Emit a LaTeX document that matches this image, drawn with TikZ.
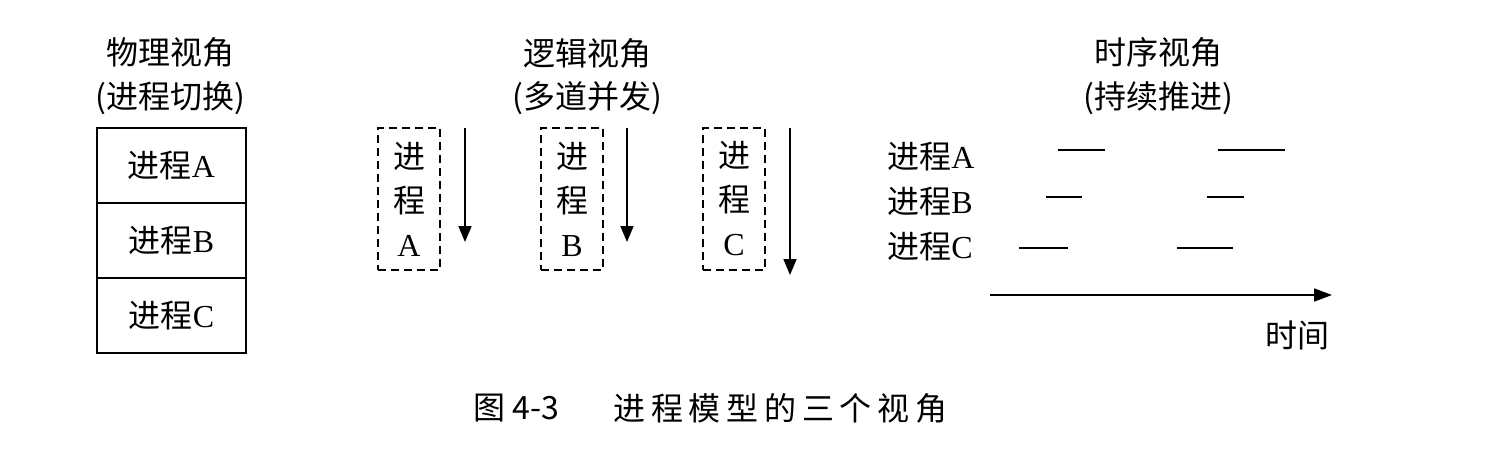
\documentclass[tikz,border=0pt]{standalone}
\usepackage{fontspec}
\setmainfont{Liberation Serif}
\newfontfamily\cjk{Noto Sans CJK SC}
\newfontfamily\cjkcap[LetterSpace=18]{Noto Sans CJK SC}
\newcommand{\zh}[1]{{\cjk #1}}
\usetikzlibrary{arrows.meta,positioning}

\begin{document}
\begin{tikzpicture}[x=0.5pt, y=-0.5pt,
    every node/.style={font=\fontsize{16}{22}\selectfont, inner sep=0pt},
    procrow/.style={draw, line width=0.9pt, outer sep=0pt, minimum width=74.5pt, minimum height=37.5pt},
    procbox/.style={draw, dash pattern=on 4pt off 2.5pt, line width=0.9pt,
        minimum width=31pt, minimum height=71pt, align=center},
    flow/.style={-{Triangle[length=8pt,width=6.5pt]}, line width=0.8pt},
    slice/.style={line width=0.9pt},
    timeaxis/.style={-{Triangle[length=9pt,width=6.5pt]}, line width=0.9pt}]
    \useasboundingbox (0,0) rectangle (1500,463);

    % === Left: physical view ===
    \node (physTitle) at (170,52) {\zh{物理视角}};
    \node (physSub) at (170,98) {\zh{(进程切换)}};
    \node[procrow] (rowA) at (171.5,165.5) {\zh{进程}A};
    \node[procrow, below=0pt of rowA] (rowB) {\zh{进程}B};
    \node[procrow, below=0pt of rowB] (rowC) {\zh{进程}C};

    % === Middle: logical view ===
    \node (logTitle) at (587,53) {\zh{逻辑视角}};
    \node (logSub) at (587,98) {\zh{(多道并发)}};
    \node[procbox] (boxA) at (409,199) {\zh{进}\\\zh{程}\\A};
    \node[procbox] (boxB) at (572,199) {\zh{进}\\\zh{程}\\B};
    \node[procbox] (boxC) at (734,199) {\zh{进}\\\zh{程}\\C};

    % each process runs on its own
    \foreach \n/\x/\y in {A/465/242, B/627/242, C/790/275} {
        \coordinate (run\n top) at (\x,128);
        \coordinate (run\n end) at (\x,\y);
        \draw[flow] (run\n top) -- (run\n end);
    }

    % === Right: time view ===
    \node (timeTitle) at (1158,52) {\zh{时序视角}};
    \node (timeSub) at (1158,98) {\zh{(持续推进)}};
    \node[anchor=west] (tlA) at (887,157) {\zh{进程}A};
    \node[anchor=west] (tlB) at (887,202) {\zh{进程}B};
    \node[anchor=west] (tlC) at (887,247) {\zh{进程}C};

    % time slices
    \foreach \a/\b/\y in {1058/1105/150, 1218/1285/150, 1046/1082/197,
                          1207/1244/197, 1019/1068/248, 1177/1233/248}
        \draw[slice] (\a,\y) -- (\b,\y);

    \coordinate (t0) at (990,295);
    \coordinate (t1) at (1332,295);
    \draw[timeaxis] (t0) -- (t1);
    \node (timeLabel) at (1297,335) {\zh{时间}};

    % Caption
    \node[anchor=west] (capNum) at (473,408) {\cjk 图 4-3};
    \node[anchor=west] (capText) at (613,408) {\cjkcap 进程模型的三个视角};
\end{tikzpicture}
\end{document}
